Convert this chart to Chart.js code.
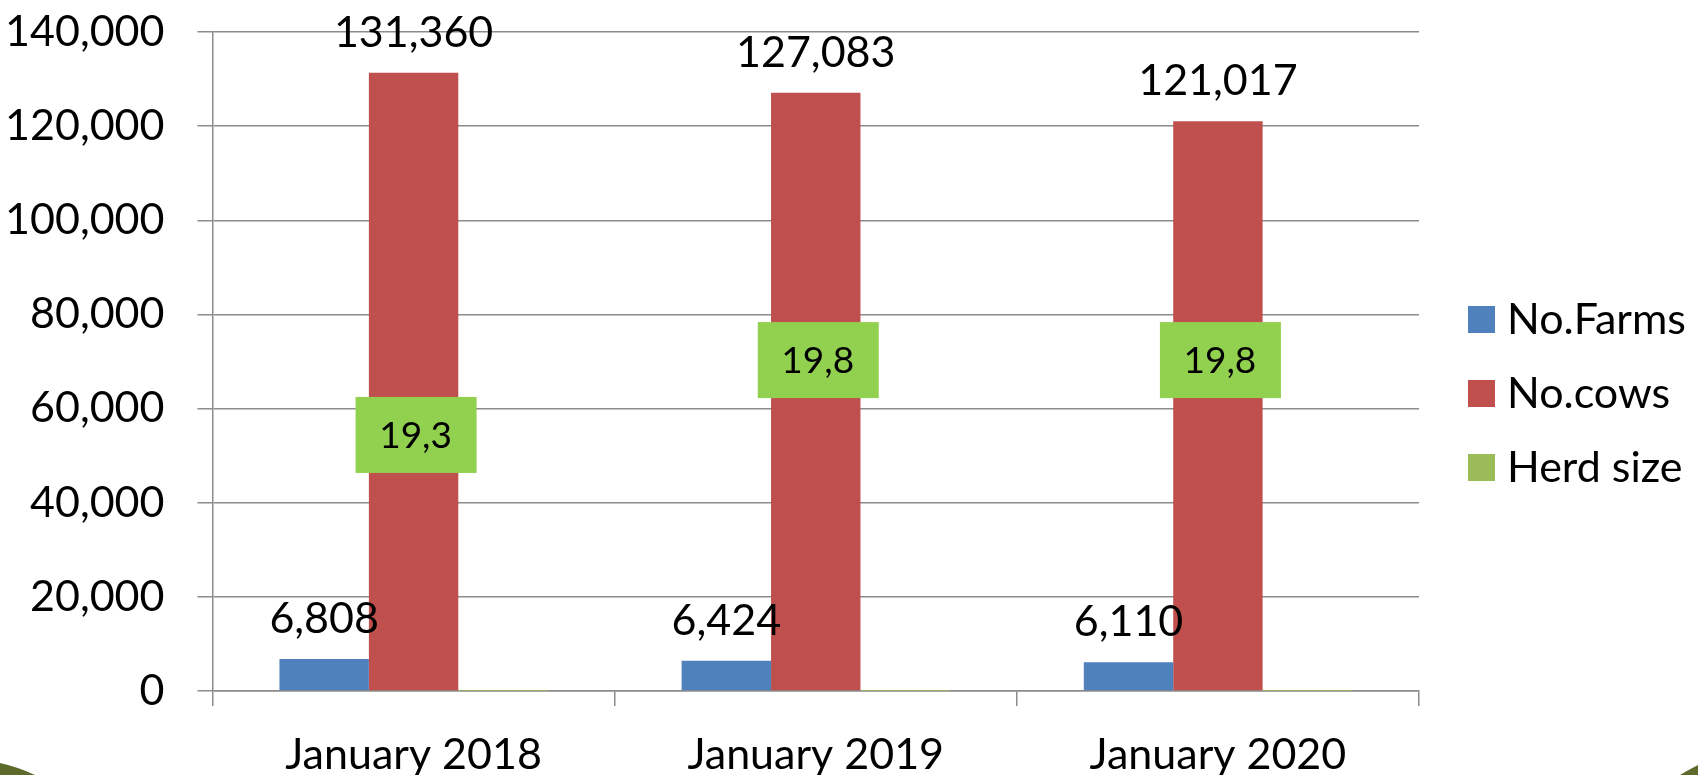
<!DOCTYPE html>
<html>
<head>
<meta charset="utf-8">
<script src="https://cdn.jsdelivr.net/npm/chart.js@4.4.0/dist/chart.umd.min.js"></script>
<style>
  html, body { margin: 0; padding: 0; background: #fff; }
  #wrap { width: 1698px; height: 775px; position: relative; }
</style>
</head>
<body>
<div id="wrap"><canvas id="herdChart"></canvas></div>
<script>
const categories = ['January 2018', 'January 2019', 'January 2020'];
const farms = [6808, 6424, 6110];
const cows = [131360, 127083, 121017];
const herdSize = [19.3, 19.8, 19.8];
const yTicks = [0, 20000, 40000, 60000, 80000, 100000, 120000, 140000];

const FONT = 'Lato, "Noto Sans", sans-serif';
const gridColor = '#8c8c8c';

// where the green herd size boxes were dragged to (value units on the y axis)
const herdLabelAt = [54400, 70300, 70300];

const fmt = (v) => v.toLocaleString('en-US');
const fmtHerd = (v) => v.toFixed(1).replace('.', ',');

// value labels + green herd size boxes
const labelPlugin = {
    id: 'valueLabels',
    afterDatasetsDraw(chart) {
        const ctx = chart.ctx;
        const yScale = chart.scales.y;
        ctx.save();
        ctx.fillStyle = '#000';
        ctx.textAlign = 'center';
        ctx.textBaseline = 'alphabetic';
        ctx.font = '43px ' + FONT;
        [0, 1].forEach(di => {
            const meta = chart.getDatasetMeta(di);
            meta.data.forEach((bar, i) => {
                const v = chart.data.datasets[di].data[i];
                ctx.fillText(fmt(v), bar.x, bar.y - 26);
            });
        });
        const cowMeta = chart.getDatasetMeta(1);
        ctx.textBaseline = 'middle';
        ctx.font = '37px ' + FONT;
        herdSize.forEach((v, i) => {
            const cx = cowMeta.data[i].x + 2;
            const cy = yScale.getPixelForValue(herdLabelAt[i]);
            ctx.fillStyle = '#92d050';
            ctx.fillRect(cx - 60, cy - 38, 121, 76);
            ctx.fillStyle = '#000';
            ctx.fillText(fmtHerd(v), cx, cy + 1);
        });
        ctx.restore();
    }
};

// legend on the right, drawn by hand to match the original spacing
const sideLegend = {
    id: 'sideLegend',
    afterDraw(chart) {
        const ctx = chart.ctx;
        ctx.save();
        ctx.font = '43px ' + FONT;
        ctx.textAlign = 'left';
        ctx.textBaseline = 'middle';
        chart.data.datasets.forEach((ds, i) => {
            const y = 319 + i * 74;
            ctx.fillStyle = ds.backgroundColor;
            ctx.fillRect(1468, y - 13, 27, 27);
            ctx.fillStyle = '#000';
            ctx.fillText(ds.label, 1507, y + 1);
        });
        ctx.restore();
    }
};

// olive slide decoration peeking in at the bottom corners
const corners = {
    id: 'corners',
    afterDraw(chart) {
        const ctx = chart.ctx;
        ctx.save();
        ctx.fillStyle = '#5c6b2b';
        ctx.beginPath();
        ctx.moveTo(0, 763);
        ctx.quadraticCurveTo(18, 767, 35, 775);
        ctx.lineTo(0, 775);
        ctx.closePath();
        ctx.fill();
        ctx.beginPath();
        ctx.moveTo(1680, 775);
        ctx.quadraticCurveTo(1690, 769, 1698, 765);
        ctx.lineTo(1698, 775);
        ctx.closePath();
        ctx.fill();
        ctx.restore();
    }
};

new Chart(document.getElementById('herdChart'), {
    type: 'bar',
    data: {
        labels: categories,
        datasets: [
            { label: 'No.Farms', data: farms, backgroundColor: '#4f81bd' },
            { label: 'No.cows', data: cows, backgroundColor: '#c0504d' },
            { label: 'Herd size', data: herdSize, backgroundColor: '#9bbb59' }
        ]
    },
    options: {
        responsive: true,
        maintainAspectRatio: false,
        animation: false,
        layout: { padding: { top: 32, right: 279, bottom: 0, left: 0 } },
        datasets: { bar: { categoryPercentage: 0.667, barPercentage: 1.0 } },
        plugins: {
            legend: { display: false },
            tooltip: { enabled: false }
        },
        scales: {
            x: {
                afterFit: (s) => { s.height = 84; },
                grid: { offset: true, drawOnChartArea: false, drawTicks: true, tickLength: 15, color: gridColor, lineWidth: 1.5 },
                border: { display: true, color: gridColor, width: 1.5 },
                ticks: { color: '#000', font: { family: FONT, size: 43 }, padding: 23 }
            },
            y: {
                min: 0,
                max: 140000,
                afterFit: (s) => { s.width = 212.5; s.paddingTop = 0; s.paddingBottom = 0; },
                afterBuildTicks: (scale) => { scale.ticks = yTicks.map(v => ({ value: v })); },
                grid: { color: gridColor, lineWidth: 1.5, drawTicks: true, tickLength: 15 },
                border: { display: true, color: gridColor, width: 1.5 },
                ticks: { color: '#000', font: { family: FONT, size: 43 }, padding: 33, callback: (v) => fmt(v) }
            }
        }
    },
    plugins: [labelPlugin, sideLegend, corners]
});
</script>
</body>
</html>
